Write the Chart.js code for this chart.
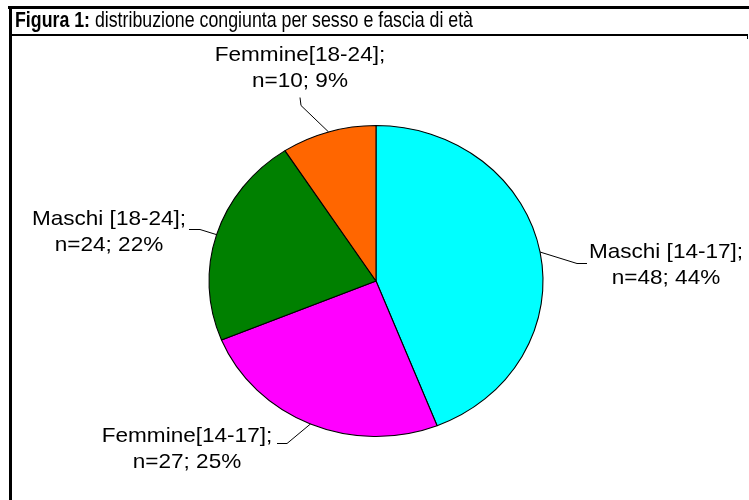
<!DOCTYPE html>
<html>
<head>
<meta charset="utf-8">
<script src="https://cdn.jsdelivr.net/npm/chart.js@4/dist/chart.umd.min.js"></script>
<style>
  body { margin: 0; background: #fff; }
  #wrap { width: 749px; height: 500px; position: relative; }
</style>
</head>
<body>
<div id="wrap"><canvas id="myChart"></canvas></div>
<script>
'use strict';
// data
let categories = ['Maschi [14-17]', 'Femmine[14-17]', 'Maschi [18-24]', 'Femmine[18-24]'];
let counts = [48, 27, 24, 10];
let sliceColors = ['#00ffff', '#ff00ff', '#008000', '#ff6600'];

let titleBold = 'Figura 1:';
let titleRest = ' distribuzione congiunta per sesso e fascia di età';

// where each label sits (center x, first baseline) and the elbow of its leader line
let labelPlaces = [
  { x: 666, y: 258, elbow: [577, 263], end: [587, 263] },
  { x: 187, y: 442, elbow: [287, 443], end: [277, 443] },
  { x: 109, y: 225, elbow: [200, 229], end: [189, 229] },
  { x: 300, y: 61, elbow: [301, 105], end: [300, 97] }
];

let stretchX = 1.074; // the original picture is a bit wider than tall
let fontName = '"Liberation Sans", Arial, sans-serif';

let total = counts.reduce((a, b) => a + b, 0);

let stretchPlugin = {
  id: 'stretch',
  beforeDatasetsDraw(chart) {
    let arc = chart.getDatasetMeta(0).data[0];
    let ctx = chart.ctx;
    ctx.save();
    ctx.translate(arc.x, 0);
    ctx.scale(stretchX, 1);
    ctx.translate(-arc.x, 0);
  },
  afterDatasetsDraw(chart) {
    chart.ctx.restore();
  }
};

let decorPlugin = {
  id: 'decor',
  afterDraw(chart) {
    let ctx = chart.ctx;
    ctx.save();

    // frame
    ctx.strokeStyle = '#000';
    ctx.lineWidth = 3;
    ctx.beginPath();
    ctx.moveTo(8, 7.5);
    ctx.lineTo(749, 7.5);
    ctx.moveTo(10.5, 6);
    ctx.lineTo(10.5, 500);
    ctx.stroke();
    ctx.lineWidth = 2;
    ctx.beginPath();
    ctx.moveTo(10, 35);
    ctx.lineTo(748, 35);
    ctx.stroke();
    ctx.lineWidth = 1;
    ctx.beginPath();
    ctx.moveTo(747.5, 35);
    ctx.lineTo(747.5, 39);
    ctx.stroke();

    // title, squeezed to the original width
    ctx.fillStyle = '#000';
    ctx.textBaseline = 'alphabetic';
    ctx.textAlign = 'left';
    ctx.font = 'bold 22px ' + fontName;
    let wBold = ctx.measureText(titleBold).width;
    ctx.font = '22px ' + fontName;
    let wRest = ctx.measureText(titleRest).width;
    let sq = 458 / (wBold + wRest);
    ctx.save();
    ctx.translate(15, 27);
    ctx.scale(sq, 1);
    ctx.font = 'bold 22px ' + fontName;
    ctx.fillText(titleBold, 0, 0);
    ctx.font = '22px ' + fontName;
    ctx.fillText(titleRest, wBold, 0);
    ctx.restore();

    // labels and leader lines
    let arcs = chart.getDatasetMeta(0).data;
    for (let i = 0; i < arcs.length; i++) {
      let a = arcs[i];
      let mid = (a.startAngle + a.endAngle) / 2;
      let ex = a.x + Math.cos(mid) * a.outerRadius * stretchX;
      let ey = a.y + Math.sin(mid) * a.outerRadius;
      let p = labelPlaces[i];

      ctx.strokeStyle = '#000';
      ctx.lineWidth = 1;
      ctx.beginPath();
      ctx.moveTo(ex, ey);
      ctx.lineTo(p.elbow[0], p.elbow[1] + 0.5);
      ctx.lineTo(p.end[0], p.end[1] + 0.5);
      ctx.stroke();

      let pct = Math.round(counts[i] / total * 100);
      let lines = [categories[i] + ';', 'n=' + counts[i] + '; ' + pct + '%'];
      ctx.font = '21px ' + fontName;
      ctx.textAlign = 'center';
      ctx.fillStyle = '#000';
      ctx.save();
      ctx.translate(p.x, p.y);
      ctx.scale(stretchX, 1);
      ctx.fillText(lines[0], 0, 0);
      ctx.fillText(lines[1], 0, 26);
      ctx.restore();
    }
    ctx.restore();
  }
};

let ctx = document.getElementById('myChart').getContext('2d');
let myChart = new Chart(ctx, {
  type: 'pie',
  data: {
    labels: categories,
    datasets: [{
      data: counts,
      backgroundColor: sliceColors,
      borderColor: '#000',
      borderWidth: 1
    }]
  },
  options: {
    responsive: true,
    maintainAspectRatio: false,
    animation: false,
    layout: {
      padding: { top: 125, bottom: 63, left: 200, right: 197 }
    },
    plugins: {
      legend: { display: false },
      tooltip: { enabled: false },
      title: { display: false }
    }
  },
  plugins: [stretchPlugin, decorPlugin]
});
</script>
</body>
</html>
